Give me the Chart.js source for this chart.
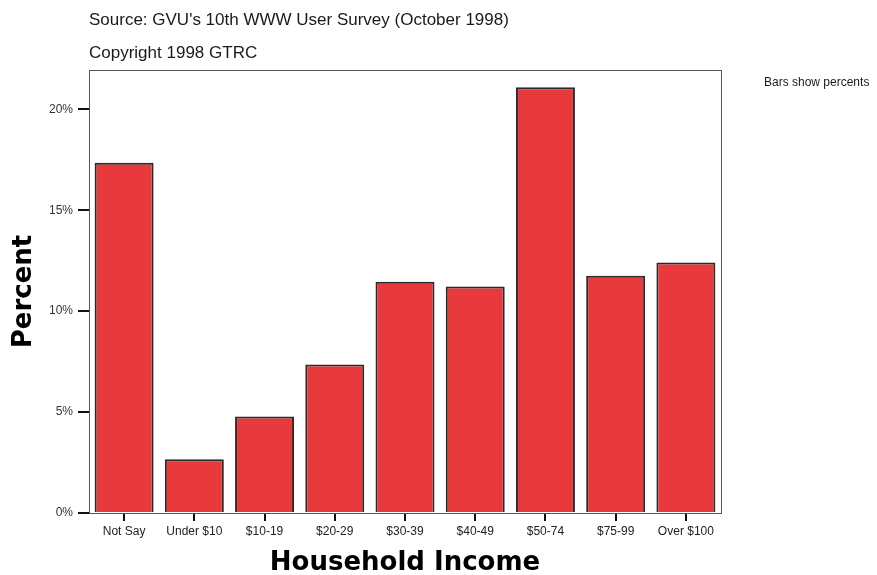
<!DOCTYPE html>
<html>
<head>
<meta charset="utf-8">
<script src="https://cdn.jsdelivr.net/npm/chart.js@4.4.0/dist/chart.umd.min.js"></script>
<style>
  html, body { margin: 0; padding: 0; background: #fff; }
  #wrap { position: relative; width: 877px; height: 575px; }
</style>
</head>
<body>
<div id="wrap"><canvas id="incomeChart" width="877" height="575"></canvas></div>
<script>
const categories = ['Not Say', 'Under $10', '$10-19', '$20-29', '$30-39', '$40-49', '$50-74', '$75-99', 'Over $100'];
const percents = [17.36, 2.66, 4.78, 7.36, 11.46, 11.22, 21.1, 11.75, 12.41];
const yTicks = [0, 5, 10, 15, 20];
const titleLines = ["Source: GVU's 10th WWW User Survey (October 1998)", 'Copyright 1998 GTRC'];
const noteText = 'Bars show percents';

// plot frame plus the header texts
const framePlugin = {
    id: 'frame',
    beforeDatasetsDraw(chart) {
        const { ctx, chartArea } = chart;
        ctx.save();
        ctx.strokeStyle = '#555';
        ctx.lineWidth = 1;
        ctx.strokeRect(chartArea.left + 0.5, chartArea.top + 0.5, chartArea.right - chartArea.left, chartArea.bottom - chartArea.top);
        ctx.restore();
    },
    afterDraw(chart) {
        const { ctx, chartArea } = chart;
        ctx.save();
        ctx.fillStyle = '#1a1a1a';
        ctx.textBaseline = 'middle';
        ctx.font = '17px "Liberation Sans", Arial, sans-serif';
        ctx.fillText(titleLines[0], chartArea.left, 20);
        ctx.fillText(titleLines[1], chartArea.left, 53);
        ctx.font = '12px "Liberation Sans", Arial, sans-serif';
        ctx.fillText(noteText, 764, 83);
        ctx.restore();
    }
};

const ctx = document.getElementById('incomeChart').getContext('2d');
const incomeChart = new Chart(ctx, {
    type: 'bar',
    data: {
        labels: categories,
        datasets: [{
            label: 'Percent',
            data: percents,
            backgroundColor: '#e83a3c',
            borderColor: '#2a2a2a',
            borderWidth: 2,
            categoryPercentage: 1,
            barPercentage: 0.84
        }]
    },
    options: {
        responsive: false,
        animation: false,
        layout: { padding: { top: 70, right: 156, bottom: 0, left: 0 } },
        plugins: {
            legend: { display: false },
            tooltip: { enabled: false }
        },
        scales: {
            x: {
                afterFit: function (scale) { scale.height = 62; },
                grid: { offset: false, drawOnChartArea: false, drawTicks: true, tickLength: 8, color: '#111', lineWidth: 2 },
                border: { display: false },
                ticks: { color: '#222', padding: 3, font: { family: '"Liberation Sans", Arial, sans-serif', size: 12 }, maxRotation: 0, autoSkip: false },
                title: {
                    display: true,
                    text: 'Household Income',
                    color: '#000',
                    padding: { top: 0, bottom: -4 },
                    font: { family: '"DejaVu Sans", sans-serif', size: 26, weight: 'bold' }
                }
            },
            y: {
                min: 0,
                max: 21.95,
                afterFit: function (scale) { scale.width = 89; },
                afterBuildTicks: function (scale) {
                    scale.ticks = yTicks.map(function (v) { return { value: v }; });
                },
                grid: { drawOnChartArea: false, drawTicks: true, tickLength: 11, color: '#111', lineWidth: 2 },
                border: { display: false },
                ticks: {
                    color: '#333',
                    padding: 5,
                    font: { family: '"Liberation Sans", Arial, sans-serif', size: 12 },
                    callback: function (value) { return value + '%'; }
                },
                title: {
                    display: true,
                    text: 'Percent',
                    color: '#000',
                    padding: { top: 9, bottom: 0 },
                    font: { family: '"DejaVu Sans", sans-serif', size: 26, weight: 'bold' }
                }
            }
        }
    },
    plugins: [framePlugin]
});
</script>
</body>
</html>
